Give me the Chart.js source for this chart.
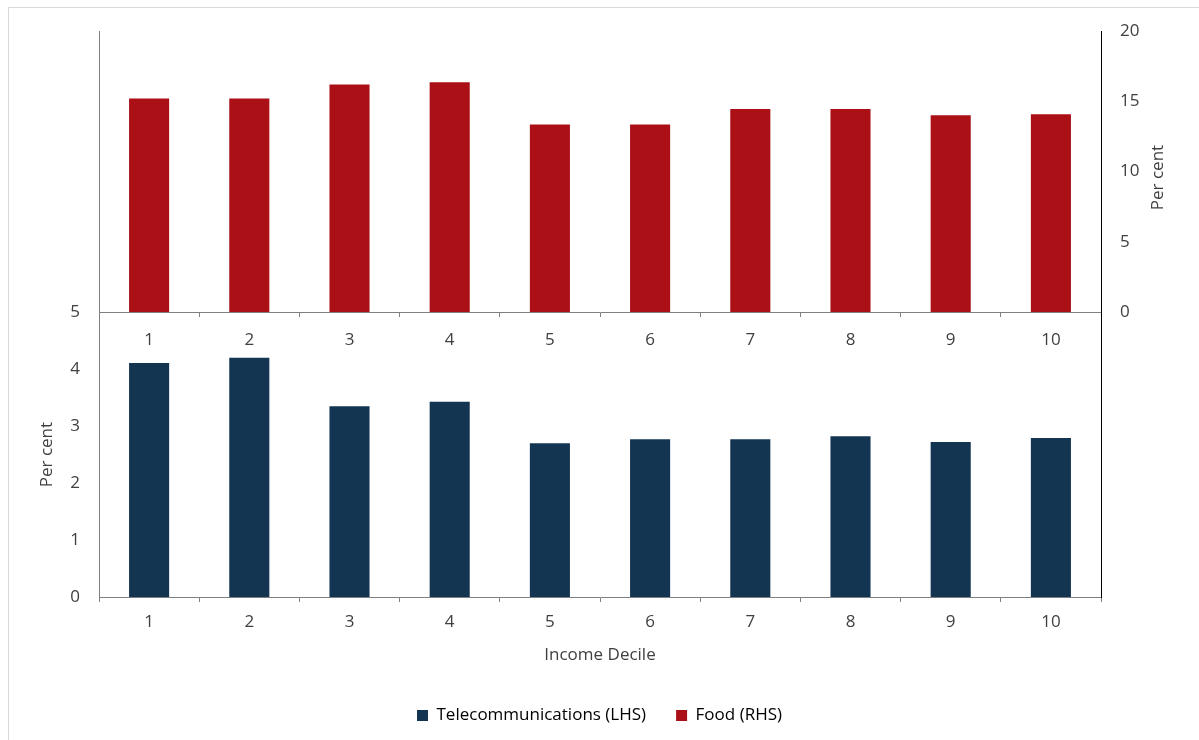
<!DOCTYPE html>
<html>
<head>
<meta charset="utf-8">
<script src="https://cdn.jsdelivr.net/npm/chart.js@4.4.0/dist/chart.umd.min.js"></script>
<style>
body{margin:0;background:#fff;width:1199px;height:740px;overflow:hidden;position:relative;}
#frame{position:absolute;left:8px;top:7px;width:1300px;height:800px;border:1px solid #d9d9d9;}
#cTop{position:absolute;left:0;top:0;}
#cBot{position:absolute;left:0;top:283px;}
</style>
</head>
<body>
<div id="frame"></div>
<canvas id="cTop" width="1199" height="360"></canvas>
<canvas id="cBot" width="1199" height="451"></canvas>
<script>
// data
var deciles = ['1', '2', '3', '4', '5', '6', '7', '8', '9', '10'];
var telecomLHS = [4.11, 4.20, 3.35, 3.43, 2.70, 2.77, 2.77, 2.82, 2.72, 2.79];
var foodRHS = [15.2, 15.2, 16.2, 16.35, 13.35, 13.35, 14.45, 14.45, 14.0, 14.07];
var lhsTicks = [0, 1, 2, 3, 4, 5];
var rhsTicks = [0, 5, 10, 15, 20];
var seriesNames = ['Telecommunications (LHS)', 'Food (RHS)'];
var xTitle = 'Income Decile';
var yTitle = 'Per cent';

var NAVY = '#133551';
var RED = '#AB1017';
var TXT = '#404040';
var AXIS = '#808080';
var FONT = "'Open Sans', sans-serif";

Chart.defaults.font.family = FONT;
Chart.defaults.font.size = 17;
Chart.defaults.color = TXT;

// right axis title reads bottom to top, like the left one
var rightTitlePlugin = {
	id: 'rightTitle',
	afterDraw: function(chart){
		var s = chart.scales.yR;
		var ctx = chart.ctx;
		ctx.save();
		ctx.translate(s.left + 57, (s.top + s.bottom) / 2 + 6);
		ctx.rotate(-Math.PI / 2);
		ctx.font = '17px ' + FONT;
		ctx.fillStyle = TXT;
		ctx.textAlign = 'center';
		ctx.textBaseline = 'middle';
		ctx.fillText(yTitle, 0, 0);
		ctx.restore();
	}
};

// top panel: food, right hand scale
new Chart(document.getElementById('cTop'), {
	type: 'bar',
	data: {
		labels: deciles,
		datasets: [{
			label: seriesNames[1],
			data: foodRHS,
			yAxisID: 'yR',
			backgroundColor: RED,
			barPercentage: 0.4,
			categoryPercentage: 1
		}]
	},
	options: {
		responsive: false,
		animation: false,
		devicePixelRatio: 1,
		layout: { padding: { left: 99, top: 31, right: 0, bottom: 0 } },
		plugins: { legend: { display: false }, tooltip: { enabled: false } },
		scales: {
			x: {
				grid: { drawOnChartArea: false, tickLength: 5, color: AXIS },
				border: { color: AXIS },
				ticks: { padding: 13, color: TXT },
				afterFit: function(s){ s.height = 48; }
			},
			yL: {
				position: 'left',
				ticks: { display: false },
				grid: { display: false, drawTicks: false },
				border: { color: AXIS },
				afterFit: function(s){ s.width = 0; }
			},
			yR: {
				position: 'right',
				min: rhsTicks[0],
				max: rhsTicks[rhsTicks.length - 1],
				ticks: { stepSize: rhsTicks[1] - rhsTicks[0], padding: 19, color: TXT },
				grid: { display: false, drawTicks: false },
				border: { color: '#000' },
				afterFit: function(s){ s.width = 98; }
			}
		}
	},
	plugins: [rightTitlePlugin]
});

// bottom panel: telecommunications, left hand scale
new Chart(document.getElementById('cBot'), {
	type: 'bar',
	data: {
		labels: deciles,
		datasets: [{
			label: seriesNames[0],
			data: telecomLHS,
			yAxisID: 'y',
			backgroundColor: NAVY,
			barPercentage: 0.4,
			categoryPercentage: 1
		}]
	},
	options: {
		responsive: false,
		animation: false,
		devicePixelRatio: 1,
		layout: { padding: { left: 0, top: 29, right: 0, bottom: 0 } },
		plugins: {
			tooltip: { enabled: false },
			legend: {
				position: 'bottom',
				labels: {
					boxWidth: 11,
					boxHeight: 11,
					padding: 30,
					color: TXT,
					font: { size: 17 },
					generateLabels: function(){
						return [
							{ text: seriesNames[0], fillStyle: NAVY, strokeStyle: NAVY, lineWidth: 0, hidden: false, datasetIndex: 0 },
							{ text: seriesNames[1], fillStyle: RED, strokeStyle: RED, lineWidth: 0, hidden: false, datasetIndex: 1 }
						];
					}
				}
			}
		},
		scales: {
			x: {
				grid: { drawOnChartArea: false, tickLength: 5, color: AXIS },
				border: { color: AXIS },
				ticks: { padding: 10, color: TXT },
				title: { display: true, text: xTitle, color: TXT, font: { size: 17 }, padding: { top: 0, bottom: 12 } },
				afterFit: function(s){ s.height = 80; }
			},
			y: {
				position: 'left',
				min: lhsTicks[0],
				max: lhsTicks[lhsTicks.length - 1],
				ticks: { stepSize: lhsTicks[1] - lhsTicks[0], padding: 19, color: TXT },
				grid: { display: false, drawTicks: false },
				border: { color: AXIS },
				title: { display: true, text: yTitle, color: TXT, font: { size: 17 }, padding: { top: 37, bottom: 0 } },
				afterFit: function(s){ s.width = 99; }
			},
			yR2: {
				position: 'right',
				ticks: { display: false },
				grid: { display: false, drawTicks: false },
				border: { color: '#000' },
				afterFit: function(s){ s.width = 98; }
			}
		}
	}
});
</script>
</body>
</html>
